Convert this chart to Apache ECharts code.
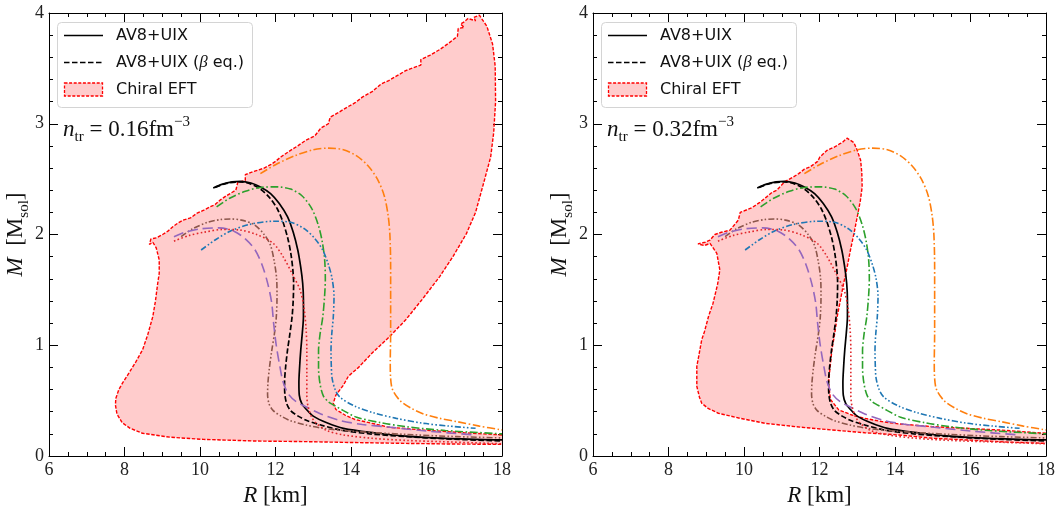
<!DOCTYPE html>
<html><head><meta charset="utf-8">
<script src="https://cdn.jsdelivr.net/npm/echarts@6.0.0/dist/echarts.min.js"></script>
<style>html,body{margin:0;padding:0;background:#fff}#c{width:1055px;height:508px}</style>
</head><body><div id="c"></div>
<script>
// ---------------- data ----------------
const xTicks = [6, 8, 10, 12, 14, 16, 18];
const yTicks = [0, 1, 2, 3, 4];
const densities = ['0.16', '0.32'];
const legendLabels = ['AV8+UIX', 'AV8+UIX (β eq.)', 'Chiral EFT'];

const av8uix = [[10.35,2.42],[10.6,2.455],[10.85,2.475],[11.07,2.48],[11.35,2.465],[11.6,2.43],[11.87,2.37],[12.1,2.28],[12.32,2.16],[12.47,2.02],[12.59,1.86],[12.67,1.70],[12.72,1.56],[12.74,1.41],[12.74,1.26],[12.71,1.11],[12.67,0.96],[12.64,0.81],[12.62,0.66],[12.63,0.55],[12.7,0.47],[12.82,0.42],[13.0,0.36],[13.36,0.30],[13.8,0.25],[14.6,0.21],[15.45,0.18],[16.5,0.16],[18.0,0.145]];
const av8uixBeta = [[10.4,2.425],[10.7,2.462],[11.05,2.475],[11.35,2.455],[11.6,2.41],[11.85,2.33],[12.05,2.23],[12.2,2.11],[12.33,1.96],[12.41,1.82],[12.46,1.68],[12.48,1.56],[12.47,1.41],[12.44,1.26],[12.38,1.1],[12.32,0.96],[12.27,0.81],[12.24,0.66],[12.25,0.55],[12.3,0.47],[12.4,0.41],[12.6,0.36],[12.83,0.32],[13.2,0.28],[13.71,0.235],[14.5,0.2],[15.45,0.175],[16.5,0.155],[18.0,0.135]];
const eosOrange = [[11.6,2.55],[12.0,2.63],[12.5,2.71],[13.0,2.765],[13.4,2.78],[13.8,2.765],[14.15,2.71],[14.45,2.62],[14.7,2.50],[14.88,2.35],[14.98,2.18],[15.03,2.0],[15.05,1.7],[15.05,1.4],[15.05,1.1],[15.04,0.85],[15.05,0.7],[15.1,0.6],[15.3,0.5],[15.6,0.43],[15.92,0.38],[16.35,0.34],[16.81,0.31],[17.4,0.27],[18.0,0.235]];
const eosGreen = [[10.44,2.25],[10.8,2.33],[11.2,2.39],[11.6,2.425],[12.03,2.43],[12.4,2.41],[12.7,2.35],[12.95,2.24],[13.12,2.10],[13.23,1.95],[13.3,1.78],[13.32,1.6],[13.3,1.44],[13.25,1.25],[13.18,1.1],[13.14,0.95],[13.14,0.8],[13.18,0.65],[13.27,0.54],[13.4,0.49],[13.54,0.46],[13.8,0.41],[14.15,0.35],[14.8,0.3],[15.45,0.265],[16.5,0.23],[18.0,0.2]];
const eosBlue = [[10.03,1.86],[10.4,1.95],[10.8,2.03],[11.3,2.09],[11.95,2.12],[12.4,2.11],[12.77,2.05],[13.05,1.96],[13.25,1.86],[13.4,1.73],[13.5,1.6],[13.55,1.44],[13.53,1.25],[13.49,1.1],[13.47,0.95],[13.48,0.8],[13.5,0.7],[13.58,0.6],[13.71,0.53],[14.1,0.45],[14.6,0.39],[15.2,0.34],[15.92,0.295],[16.6,0.27],[17.3,0.25]];
const eosBrown = [[9.5,1.98],[9.8,2.05],[10.2,2.11],[10.55,2.135],[10.8,2.14],[11.1,2.13],[11.43,2.09],[11.7,2.0],[11.87,1.9],[11.97,1.75],[12.03,1.6],[12.04,1.44],[12.02,1.25],[11.97,1.1],[11.9,0.95],[11.84,0.8],[11.8,0.66],[11.79,0.56],[11.83,0.47],[11.94,0.41],[12.15,0.36],[12.39,0.32],[12.8,0.28],[13.27,0.25],[14.0,0.225],[15.45,0.195],[16.8,0.175],[18.0,0.163]];
const eosPurple = [[9.31,1.98],[9.6,2.02],[10.0,2.05],[10.5,2.06],[10.9,2.03],[11.2,1.96],[11.46,1.86],[11.65,1.72],[11.8,1.55],[11.9,1.38],[11.95,1.2],[12.02,1.0],[12.12,0.8],[12.2,0.67],[12.34,0.56],[12.55,0.49],[12.83,0.44],[13.2,0.38],[13.71,0.32],[14.3,0.285],[15.04,0.26],[16.0,0.225],[17.3,0.19]];
const eosRed = [[9.31,1.94],[9.7,1.99],[10.1,2.02],[10.6,2.045],[11.06,2.04],[11.5,2.0],[11.94,1.92],[12.2,1.8],[12.45,1.64],[12.65,1.50],[12.75,1.35],[12.81,1.15],[12.83,0.95],[12.83,0.75],[12.83,0.55],[12.86,0.45],[12.96,0.35],[13.1,0.29],[13.36,0.23],[13.8,0.19],[14.56,0.16],[15.5,0.14],[16.35,0.13],[18.0,0.11]];

// Chiral EFT band boundary, n_tr = 0.16 fm^-3
const bandLow = [[18.0,0.19],[17.0,0.21],[15.9,0.235],[15.0,0.26],[14.56,0.295],[14.1,0.33],[13.84,0.37],[13.6,0.42],[13.53,0.476],[13.6,0.55],[13.8,0.64],[13.93,0.72],[14.2,0.8],[14.56,0.93],[15.0,1.07],[15.45,1.23],[15.9,1.42],[16.35,1.62],[16.7,1.80],[17.06,2.01],[17.3,2.2],[17.51,2.46],[17.7,2.7],[17.78,2.92],[17.83,3.2],[17.82,3.52],[17.75,3.72],[17.6,3.88],[17.4,3.98],[17.25,3.96],[17.3,3.93],[17.1,3.95],[17.0,3.92],[16.9,3.9],[17.0,3.87],[16.84,3.86],[16.82,3.79],[16.6,3.73],[16.35,3.67],[16.1,3.62],[15.85,3.58],[15.85,3.53],[15.45,3.48],[15.2,3.43],[15.0,3.39],[14.8,3.36],[14.56,3.29],[14.3,3.24],[14.11,3.19],[13.9,3.15],[13.66,3.10],[13.45,3.06],[13.4,3.0],[13.2,2.96],[13.04,2.89],[12.8,2.85],[12.59,2.80],[12.4,2.76],[12.14,2.70],[12.0,2.66],[11.87,2.63],[11.7,2.6],[11.43,2.57],[11.2,2.54],[11.2,2.49],[11.0,2.47],[10.95,2.40],[10.7,2.35],[10.53,2.31],[10.4,2.27],[10.27,2.25],[10.1,2.22],[9.91,2.19],[9.75,2.15],[9.55,2.13],[9.4,2.10],[9.28,2.07],[9.15,2.03],[9.01,2.0],[8.85,1.97],[8.7,1.96],[8.66,1.91],[8.75,1.93],[8.84,1.88],[8.92,1.77],[8.92,1.65],[8.88,1.56],[8.82,1.40],[8.75,1.26],[8.62,1.10],[8.48,0.96],[8.3,0.85],[8.12,0.75],[7.95,0.66],[7.85,0.60],[7.77,0.52],[7.76,0.46],[7.8,0.38],[7.94,0.3],[8.15,0.25],[8.48,0.205],[9.2,0.17],[10.09,0.15],[11.5,0.135],[12.77,0.13],[14.0,0.122],[15.45,0.114],[16.7,0.108],[18.0,0.105]];
// Chiral EFT band boundary, n_tr = 0.32 fm^-3
const bandHigh = [[18.0,0.205],[16.76,0.235],[15.0,0.265],[14.1,0.29],[13.66,0.31],[13.2,0.34],[12.86,0.37],[12.51,0.416],[12.29,0.51],[12.24,0.66],[12.28,0.8],[12.33,0.96],[12.4,1.1],[12.47,1.26],[12.55,1.4],[12.64,1.56],[12.73,1.7],[12.82,1.86],[12.92,2.02],[13.0,2.16],[13.08,2.3],[13.13,2.43],[13.12,2.56],[13.09,2.67],[13.0,2.76],[12.91,2.83],[12.73,2.87],[12.6,2.83],[12.54,2.82],[12.4,2.79],[12.2,2.76],[12.01,2.70],[11.95,2.66],[11.75,2.61],[11.6,2.59],[11.45,2.55],[11.31,2.52],[11.09,2.48],[10.87,2.40],[10.74,2.38],[10.6,2.34],[10.42,2.29],[10.2,2.24],[9.9,2.20],[9.85,2.13],[9.63,2.04],[9.4,2.02],[9.23,2.0],[9.1,1.95],[8.97,1.93],[8.78,1.915],[8.95,1.9],[9.1,1.92],[9.28,1.83],[9.36,1.68],[9.3,1.55],[9.18,1.38],[9.06,1.26],[8.95,1.12],[8.88,1.05],[8.8,0.9],[8.75,0.81],[8.75,0.63],[8.82,0.53],[8.88,0.476],[9.05,0.43],[9.32,0.386],[9.9,0.34],[10.56,0.295],[11.5,0.26],[12.33,0.235],[13.2,0.21],[14.1,0.19],[15.0,0.16],[15.88,0.145],[17.0,0.125],[18.0,0.114]];

// ---------------- styles ----------------
const curveDefs = [
  {name:'AV8+UIX', data: av8uix, color:'#000000', width:1.7, dash:'solid'},
  {name:'AV8+UIX (β eq.)', data: av8uixBeta, color:'#000000', width:1.7, dash:[5.5,2.5]},
  {name:'EOS orange', data: eosOrange, color:'#ff7f0e', width:1.6, dash:[8,2.5,1.6,2.5]},
  {name:'EOS green', data: eosGreen, color:'#2ca02c', width:1.6, dash:[8,2.5,1.6,2.5]},
  {name:'EOS blue', data: eosBlue, color:'#1f77b4', width:1.6, dash:[6,2.2,1.6,2.2,1.6,2.2]},
  {name:'EOS brown', data: eosBrown, color:'#8c564b', width:1.6, dash:[6,2.2,1.6,2.2,1.6,2.2]},
  {name:'EOS purple', data: eosPurple, color:'#9467bd', width:1.6, dash:[10,5]},
  {name:'EOS red', data: eosRed, color:'#e0262a', width:1.6, dash:[1.6,2.4]}
];
const bands = [bandLow, bandHigh];
const gridLefts = [49, 593];
const GT = 13, GW = 453, GH = 443;
const SERIF = "'Liberation Serif', 'DejaVu Serif', serif";
const SANS = "'DejaVu Sans', sans-serif";

const chart = echarts.init(document.getElementById('c'), null, {renderer:'canvas'});

const grids = [], xAxes = [], yAxes = [], series = [], graphics = [];
const tickCol = '#000';

function nameRich() {
  return {
    i: {fontFamily: SERIF, fontStyle: 'italic', fontSize: 23, lineHeight: 30, color: '#111'},
    r: {fontFamily: SERIF, fontSize: 23, lineHeight: 30, color: '#111'},
    s: {fontFamily: SERIF, fontSize: 15, lineHeight: 15, verticalAlign: 'bottom', color: '#111'}
  };
}

for (let p = 0; p < 2; p++) {
  const L = gridLefts[p];
  grids.push({left: L, top: GT, width: GW, height: GH, containLabel: false, outerBoundsMode: 'none', show: false});
  const xBase = {
    gridIndex: p, type: 'value', min: xTicks[0], max: xTicks[xTicks.length-1], interval: xTicks[1]-xTicks[0],
    axisLine: {show: true, onZero: false, lineStyle: {color: tickCol, width: 1}},
    axisTick: {show: true, inside: true, length: 9, lineStyle: {color: tickCol, width: 1}},
    minorTick: {show: true, splitNumber: 4, length: 4, lineStyle: {color: tickCol, width: 1}},
    splitLine: {show: false}, minorSplitLine: {show: false}
  };
  const yBase = {
    gridIndex: p, type: 'value', min: yTicks[0], max: yTicks[yTicks.length-1], interval: yTicks[1]-yTicks[0],
    axisLine: {show: true, onZero: false, lineStyle: {color: tickCol, width: 1}},
    axisTick: {show: true, inside: true, length: 9, lineStyle: {color: tickCol, width: 1}},
    minorTick: {show: true, splitNumber: 5, length: 4, lineStyle: {color: tickCol, width: 1}},
    splitLine: {show: false}, minorSplitLine: {show: false}
  };
  xAxes.push(Object.assign({}, xBase, {
    position: 'bottom',
    axisLabel: {show: true, margin: 5, fontFamily: SERIF, fontSize: 18, color: '#222',
      formatter: v => String(v), showMinLabel: true, showMaxLabel: true},
    name: '{i|R}{r| [km]}', nameLocation: 'middle', nameGap: 25,
    nameTextStyle: {rich: nameRich()}
  }));
  xAxes.push(Object.assign({}, xBase, {position: 'top', axisLabel: {show: false}}));
  yAxes.push(Object.assign({}, yBase, {
    position: 'left',
    axisLabel: {show: true, margin: 5, fontFamily: SERIF, fontSize: 18, color: '#222',
      formatter: v => String(v), showMinLabel: true, showMaxLabel: true},
    name: '{i|M}{r|  [M}{s|sol}{r|]}', nameLocation: 'middle', nameGap: 17,
    nameTextStyle: {rich: nameRich()}
  }));
  yAxes.push(Object.assign({}, yBase, {position: 'right', axisLabel: {show: false}}));

  const xi = p * 2, yi = p * 2;
  const band = bands[p];
  // band fill
  series.push({
    type: 'custom', name: 'Chiral EFT', xAxisIndex: xi, yAxisIndex: yi, silent: true, clip: true, z: 1,
    data: [[12, 1]],
    renderItem: (params, api) => ({
      type: 'polygon',
      shape: {points: band.map(pt => api.coord(pt))},
      style: {fill: 'rgba(255,0,0,0.2)', stroke: null}
    })
  });
  // band border
  series.push({
    type: 'line', name: 'Chiral EFT border', xAxisIndex: xi, yAxisIndex: yi, data: band,
    showSymbol: false, symbol: 'none', silent: true, z: 3, animation: false,
    lineStyle: {color: '#ff0000', width: 1.4, type: [3.5, 1.6]},
    emphasis: {disabled: true}
  });
  curveDefs.forEach(c => {
    series.push({
      type: 'line', name: c.name, xAxisIndex: xi, yAxisIndex: yi, data: c.data,
      showSymbol: false, symbol: 'none', smooth: 0.3, silent: true, z: 4, animation: false,
      lineStyle: {color: c.color, width: c.width, type: c.dash},
      emphasis: {disabled: true}
    });
  });

  // legend (drawn as graphic)
  const bx = L + 8.5, by = 22.5;
  graphics.push({type: 'rect', shape: {x: bx, y: by, width: 195, height: 85, r: 4},
    style: {fill: 'rgba(255,255,255,0.8)', stroke: '#d4d4d4', lineWidth: 1}, z: 100});
  graphics.push({type: 'line', shape: {x1: L + 15, y1: 35.5, x2: L + 54, y2: 35.5},
    style: {stroke: '#000', lineWidth: 1.7}, z: 101});
  graphics.push({type: 'line', shape: {x1: L + 15, y1: 62.5, x2: L + 54, y2: 62.5},
    style: {stroke: '#000', lineWidth: 1.7, lineDash: [5.5, 2.5]}, z: 101});
  graphics.push({type: 'rect', shape: {x: L + 15.5, y: 83, width: 38, height: 13},
    style: {fill: 'rgba(255,0,0,0.2)', stroke: '#ff0000', lineWidth: 1.3, lineDash: [3, 1.6]}, z: 101});
  graphics.push({type: 'text', x: L + 67, y: 35.5, z: 101,
    style: {text: legendLabels[0], fontFamily: SANS, fontSize: 16, fill: '#111', verticalAlign: 'middle'}});
  graphics.push({type: 'text', x: L + 67, y: 62.5, z: 101,
    style: {text: '{a|AV8+UIX (}{b|β}{a| eq.)}', verticalAlign: 'middle', fill: '#111',
      rich: {a: {fontFamily: SANS, fontSize: 16, fill: '#111'}, b: {fontFamily: SERIF, fontStyle: 'italic', fontSize: 17, fill: '#111'}}}});
  graphics.push({type: 'text', x: L + 67, y: 89.5, z: 101,
    style: {text: legendLabels[2], fontFamily: SANS, fontSize: 16, fill: '#111', verticalAlign: 'middle'}});
  // density annotation
  graphics.push({type: 'text', x: L + 14, y: 130, z: 101,
    style: {text: '{n|n}{s|tr}{m| = ' + densities[p] + 'fm}{p|−3}', verticalAlign: 'middle', fill: '#111',
      rich: {
        n: {fontFamily: SERIF, fontStyle: 'italic', fontSize: 23, lineHeight: 30, fill: '#111'},
        s: {fontFamily: SERIF, fontSize: 15, lineHeight: 15, verticalAlign: 'bottom', fill: '#111'},
        m: {fontFamily: SERIF, fontSize: 23, lineHeight: 30, fill: '#111'},
        p: {fontFamily: SERIF, fontSize: 15, lineHeight: 15, verticalAlign: 'top', fill: '#111'}
      }}});
}

chart.setOption({
  animation: false,
  backgroundColor: '#fff',
  grid: grids, xAxis: xAxes, yAxis: yAxes, series: series,
  graphic: {elements: graphics}
});
</script></body></html>
